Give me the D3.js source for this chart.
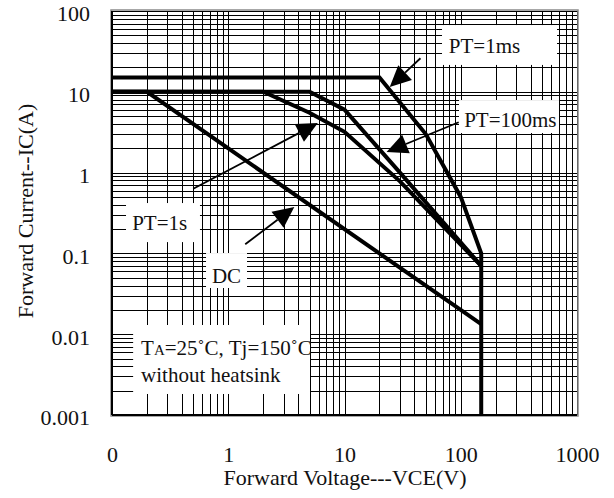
<!DOCTYPE html>
<html>
<head>
<meta charset="utf-8">
<script src="https://cdn.jsdelivr.net/npm/d3@7"></script>
<style>
  body { margin: 0; background: #fff; }
  svg { display: block; }
  svg text { font-family: "Liberation Serif", "Times New Roman", serif !important; fill: #111; }
</style>
</head>
<body>
<div id="chart"></div>
<script>
// Safe operating area, IC vs VCE, log-log
const xTickValues = [0.1, 1, 10, 100, 1000];
const xTickLabels = ["0", "1", "10", "100", "1000"];
const yTickValues = [0.001, 0.01, 0.1, 1, 10, 100];
const yTickLabels = ["0.001", "0.01", "0.1", "1", "10", "100"];

// [VCE (V), IC (A)]
const pt1msPoints = [[0.1, 15], [20, 15], [50, 3], [100, 0.5], [150, 0.1], [150, 0.001]];
const pt100msPoints = [[0.1, 10], [5, 10], [10, 6], [30, 1.0], [150, 0.07]];
const pt1sPoints = [[0.1, 10], [2, 10], [5, 5.5], [10, 3.2], [30, 0.78], [150, 0.07]];
const dcPoints = [[0.1, 10], [0.2, 10], [150, 0.0133]];

// annotation labels: text, white patch [V0, V1, I0, I1], text anchor [V, I]
const labelTexts = ["PT=1ms", "PT=100ms", "PT=1s", "DC"];
const labelPatches = [[69, 673, 67, 21.5], [96.6, 700, 7.9, 3.09], [0.132, 0.571, 0.42, 0.138], [0.644, 1.45, 0.101, 0.0373]];
const labelAnchors = [[79, 30], [107, 3.66], [0.149, 0.195], [0.724, 0.043]];
// arrows: [tail, tip] in [V, I]
const arrowTails = [[45, 26], [96, 4.2], [0.5, 0.63], [1.4, 0.13]];
const arrowTips = [[24.5, 11.5], [23, 1.8], [5.9, 4.1], [3.7, 0.375]];

const noteLines = ["without heatsink"];
const notePatch = [0.152, 5.05, 0.013, 0.00182];
const noteAnchors = [[0.178, 0.00553], [0.178, 0.00258]];

const width = 614, height = 498;
const margin = { top: 11, right: 37, bottom: 83, left: 112 };
const innerW = width - margin.left - margin.right;
const innerH = height - margin.top - margin.bottom;
const serif = '"Liberation Serif", "Times New Roman", serif';

const x = d3.scaleLog().domain([0.1, 1000]).range([margin.left, margin.left + innerW]);
const y = d3.scaleLog().domain([0.001, 100]).range([margin.top + innerH, margin.top]);

const svg = d3.select("#chart").append("svg")
    .attr("width", width)
    .attr("height", height)
    .attr("font-family", serif);

svg.append("rect").attr("width", width).attr("height", height).attr("fill", "#fff");

// grid
svg.append("g")
    .attr("transform", `translate(0,${margin.top + innerH})`)
    .call(d3.axisBottom(x).ticks(10).tickSize(-innerH).tickFormat(""))
    .call(g => g.select(".domain").remove())
    .call(g => g.selectAll("line").attr("stroke", "#000").attr("shape-rendering", "crispEdges"));

svg.append("g")
    .attr("transform", `translate(${margin.left},0)`)
    .call(d3.axisLeft(y).ticks(10).tickSize(-innerW).tickFormat(""))
    .call(g => g.select(".domain").remove())
    .call(g => g.selectAll("line").attr("stroke", "#000").attr("shape-rendering", "crispEdges"));

// frame
svg.append("rect")
    .attr("x", margin.left - 1).attr("y", margin.top - 1)
    .attr("width", innerW + 2).attr("height", innerH + 2)
    .attr("fill", "none").attr("stroke", "#8a8a8a").attr("stroke-width", 1.5);
svg.append("line")
    .attr("x1", margin.left).attr("x2", margin.left)
    .attr("y1", margin.top).attr("y2", margin.top + innerH)
    .attr("stroke", "#000").attr("stroke-width", 2);
svg.append("line")
    .attr("x1", margin.left).attr("x2", margin.left + innerW)
    .attr("y1", margin.top + innerH).attr("y2", margin.top + innerH)
    .attr("stroke", "#000").attr("stroke-width", 2);

// white patches behind labels
const patches = labelPatches.concat([notePatch]);
svg.append("g").selectAll("rect")
    .data(patches)
  .join("rect")
    .attr("x", d => x(d[0]))
    .attr("y", d => y(d[2]))
    .attr("width", d => x(d[1]) - x(d[0]))
    .attr("height", d => y(d[3]) - y(d[2]))
    .attr("fill", "#fff");

// curves
const line = d3.line().x(d => x(d[0])).y(d => y(d[1]));
svg.append("g").selectAll("path")
    .data([pt1msPoints, pt100msPoints, pt1sPoints, dcPoints])
  .join("path")
    .attr("d", line)
    .attr("fill", "none")
    .attr("stroke", "#000")
    .attr("stroke-width", 4)
    .attr("stroke-linejoin", "miter");

// arrows
const headLen = 21, headHalf = 10;
const arrows = arrowTails.map((t, i) => {
    const x0 = x(t[0]), y0 = y(t[1]);
    const x1 = x(arrowTips[i][0]), y1 = y(arrowTips[i][1]);
    const len = Math.hypot(x1 - x0, y1 - y0);
    const ux = (x1 - x0) / len, uy = (y1 - y0) / len;
    const bx = x1 - ux * headLen, by = y1 - uy * headLen;
    return { x0, y0, x1, y1, bx, by, px: -uy * headHalf, py: ux * headHalf };
});
const ag = svg.append("g");
ag.selectAll("line")
    .data(arrows)
  .join("line")
    .attr("x1", d => d.x0).attr("y1", d => d.y0)
    .attr("x2", d => d.bx).attr("y2", d => d.by)
    .attr("stroke", "#000").attr("stroke-width", 1.8);
ag.selectAll("polygon")
    .data(arrows)
  .join("polygon")
    .attr("points", d => `${d.x1},${d.y1} ${d.bx + d.px},${d.by + d.py} ${d.bx - d.px},${d.by - d.py}`)
    .attr("fill", "#000");

// label texts
svg.append("g").selectAll("text")
    .data(labelTexts)
  .join("text")
    .attr("x", (d, i) => x(labelAnchors[i][0]))
    .attr("y", (d, i) => y(labelAnchors[i][1]))
    .attr("font-size", 21)
    .style("font-family", serif)
    .text(d => d);

const note = svg.append("text")
    .attr("x", x(noteAnchors[0][0]))
    .attr("y", y(noteAnchors[0][1]))
    .attr("font-size", 21)
    .style("font-family", serif);
note.append("tspan").text("T");
note.append("tspan").attr("font-size", 15).text("A");
note.append("tspan").text("=25˚C, Tj=150˚C");

svg.append("text")
    .attr("x", x(noteAnchors[1][0]))
    .attr("y", y(noteAnchors[1][1]))
    .attr("font-size", 21)
    .style("font-family", serif)
    .text(noteLines[0]);

// tick labels
svg.append("g")
    .attr("transform", `translate(0,${margin.top + innerH})`)
    .call(d3.axisBottom(x).tickValues(xTickValues).tickSize(0).tickPadding(31)
        .tickFormat((d, i) => xTickLabels[i]))
    .attr("font-family", serif)
    .attr("font-size", 22)
    .call(g => g.select(".domain").remove())
    .call(g => g.selectAll("text").attr("fill", "#111").style("font-family", serif));

svg.append("g")
    .attr("transform", `translate(${margin.left},0)`)
    .call(d3.axisLeft(y).tickValues(yTickValues).tickSize(0).tickPadding(22)
        .tickFormat((d, i) => yTickLabels[i]))
    .attr("font-family", serif)
    .attr("font-size", 22)
    .call(g => g.select(".domain").remove())
    .call(g => g.selectAll("text").attr("fill", "#111").attr("dy", "0.45em").style("font-family", serif));

// axis titles
svg.append("text")
    .attr("x", 345).attr("y", 485)
    .attr("text-anchor", "middle")
    .attr("font-size", 22)
    .style("font-family", serif)
    .text("Forward Voltage---VCE(V)");

svg.append("text")
    .attr("transform", "translate(33,211) rotate(-90)")
    .attr("text-anchor", "middle")
    .attr("font-size", 22)
    .style("font-family", serif)
    .text("Forward Current--IC(A)");
</script>
</body>
</html>
